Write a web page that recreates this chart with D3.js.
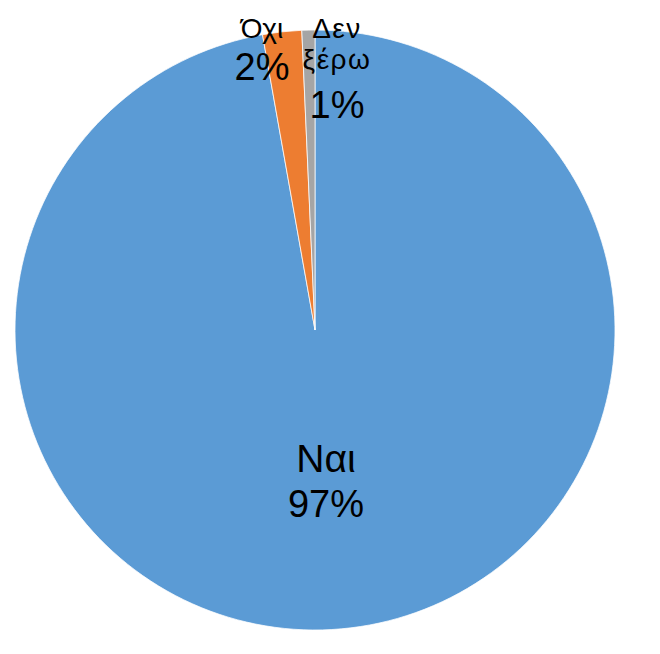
<!DOCTYPE html>
<html><head><meta charset="utf-8">
<script src="https://cdn.jsdelivr.net/npm/d3@7"></script>
<style>body{margin:0;background:#fff}svg{display:block}</style>
</head><body>
<script>
const categories = ["Ναι", "Όχι", "Δεν ξέρω"];
const values = [97.2, 2.1, 0.7];
const percentLabels = ["97%", "2%", "1%"];
const colors = ["#5B9BD5", "#ED7D31", "#A5A5A5"];

const W = 660, H = 654, cx = 315, cy = 330, R = 300;
const svg = d3.select("body").append("svg").attr("width", W).attr("height", H);
const g = svg.append("g").attr("transform", `translate(${cx},${cy})`);
const pie = d3.pie().sort(null).value(d => d)(values);
const arc = d3.arc().innerRadius(0).outerRadius(R);
g.selectAll("path").data(pie).join("path")
  .attr("d", arc).attr("fill", (d,i) => colors[i])
  .attr("stroke", "#fff").attr("stroke-width", 0.75);

const font = "'Liberation Sans', Arial, sans-serif";
const labelSpecs = [
  {x: 326, lines: [{t: categories[0], s: 39, y: 472, ls: 0}, {t: percentLabels[0], s: 38, y: 517, ls: 0}]},
  {x: 262, lines: [{t: categories[1], s: 28, y: 38, ls: 0}, {t: percentLabels[1], s: 38, y: 80, ls: 0}]},
  {x: 337, lines: [{t: "Δεν", s: 28, y: 38, ls: 1.5}, {t: "ξέρω", s: 28, y: 69, ls: 1.5}, {t: percentLabels[2], s: 38, y: 118, ls: 0}]}
];
labelSpecs.forEach(spec => {
  spec.lines.forEach(l => {
    svg.append("text").attr("x", spec.x).attr("y", l.y)
      .attr("text-anchor", "middle").attr("font-family", font)
      .attr("font-size", l.s).attr("letter-spacing", l.ls).attr("fill", "#000").text(l.t);
  });
});
</script>
</body></html>
